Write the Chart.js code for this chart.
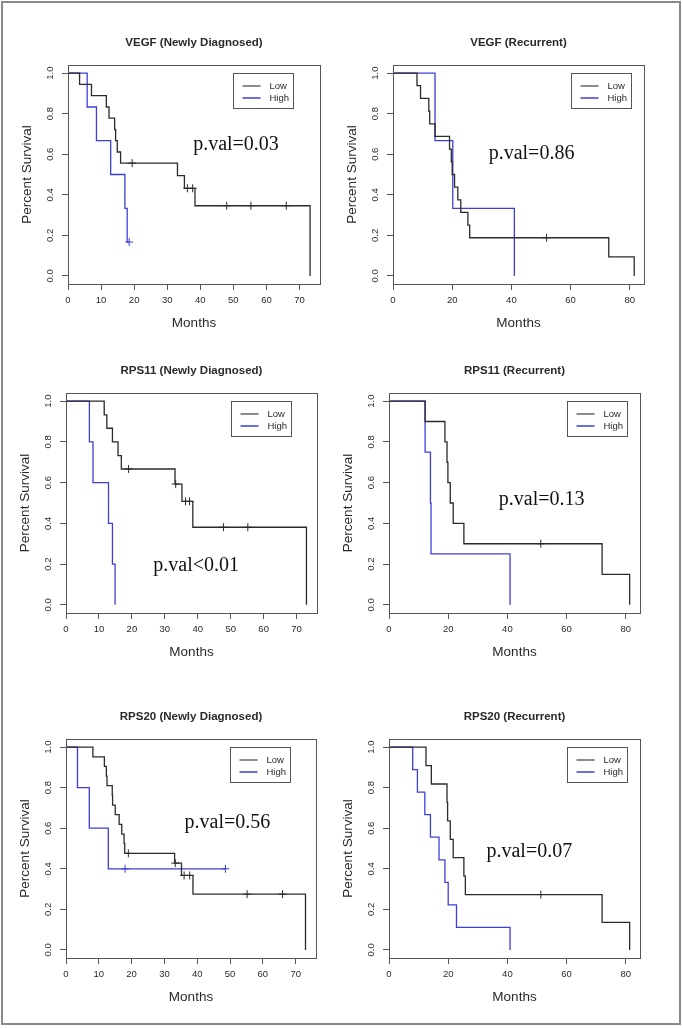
<!DOCTYPE html>
<html>
<head>
<meta charset="utf-8">
<script src="https://cdn.jsdelivr.net/npm/chart.js@4.4.0/dist/chart.umd.min.js"></script>
<style>
  html, body { margin: 0; padding: 0; background: #fff; }
  #frame { position: absolute; left: 1px; top: 1px; width: 680px; height: 1024px; box-sizing: border-box; border: 2px solid #8a8a8a; }
  canvas { position: absolute; }
</style>
</head>
<body>
<div id="frame"></div>
<script>
// Panel text
const titles = ['VEGF (Newly Diagnosed)', 'VEGF (Recurrent)', 'RPS11 (Newly Diagnosed)', 'RPS11 (Recurrent)', 'RPS20 (Newly Diagnosed)', 'RPS20 (Recurrent)'];
const pLabels = ['p.val=0.03', 'p.val=0.86', 'p.val<0.01', 'p.val=0.13', 'p.val=0.56', 'p.val=0.07'];
const groups = ['Low', 'High'];
const yTicks = [0, 0.2, 0.4, 0.6, 0.8, 1.0];
const newTicks = [0, 10, 20, 30, 40, 50, 60, 70];
const recTicks = [0, 20, 40, 60, 80];

// VEGF newly diagnosed
const vegfNewLowTime = [0, 3.5, 7.1, 11.6, 12.4, 14.1, 14.4, 14.9, 15.9, 33.1, 35.2, 38.4, 73.2];
const vegfNewLowSurv = [1, 0.944, 0.889, 0.833, 0.778, 0.722, 0.667, 0.611, 0.556, 0.494, 0.432, 0.346, 0];
const vegfNewLowCens = [19.4, 36.1, 37.7, 48.0, 55.3, 66.0];
const vegfNewHighTime = [0, 5.8, 8.6, 12.9, 17.2, 17.9, 18.5];
const vegfNewHighSurv = [1, 0.833, 0.667, 0.5, 0.333, 0.167, 0.167];
const vegfNewHighCens = [18.5];

// VEGF recurrent
const vegfRecLowTime = [0, 8.1, 9.3, 12.1, 12.4, 14.2, 19.1, 19.7, 20.0, 20.8, 21.9, 22.9, 25.3, 25.9, 72.9, 81.5];
const vegfRecLowSurv = [1, 0.938, 0.875, 0.813, 0.75, 0.688, 0.625, 0.563, 0.5, 0.438, 0.375, 0.313, 0.25, 0.188, 0.094, 0];
const vegfRecLowCens = [51.9];
const vegfRecHighTime = [0, 14.2, 20.2, 41.0];
const vegfRecHighSurv = [1, 0.667, 0.333, 0];
const vegfRecHighCens = [];

// RPS11 newly diagnosed
const rps11NewLowTime = [0, 11.6, 12.4, 14.1, 15.8, 16.8, 33.1, 35.2, 38.5, 73.0];
const rps11NewLowSurv = [1, 0.933, 0.867, 0.8, 0.733, 0.667, 0.593, 0.508, 0.381, 0];
const rps11NewLowCens = [19.0, 33.3, 36.3, 37.5, 47.8, 55.2];
const rps11NewHighTime = [0, 7.1, 8.2, 12.9, 14.1, 14.9];
const rps11NewHighSurv = [1, 0.8, 0.6, 0.4, 0.2, 0];
const rps11NewHighCens = [];

// RPS11 recurrent
const rps11RecLowTime = [0, 12.2, 18.9, 19.6, 19.9, 20.7, 21.7, 25.3, 72.0, 81.3];
const rps11RecLowSurv = [1, 0.9, 0.8, 0.7, 0.6, 0.5, 0.4, 0.3, 0.15, 0];
const rps11RecLowCens = [51.3];
const rps11RecHighTime = [0, 12.2, 14.0, 14.2, 40.9];
const rps11RecHighSurv = [1, 0.75, 0.5, 0.25, 0];
const rps11RecHighCens = [];

// RPS20 newly diagnosed
const rps20NewLowTime = [0, 8.2, 11.7, 12.3, 12.5, 14.1, 14.2, 15.0, 16.2, 17.0, 17.7, 17.9, 33.1, 35.2, 38.7, 73.0];
const rps20NewLowSurv = [1, 0.952, 0.905, 0.857, 0.810, 0.762, 0.714, 0.667, 0.619, 0.571, 0.524, 0.476, 0.428, 0.367, 0.275, 0];
const rps20NewLowCens = [19.0, 33.3, 36.0, 37.7, 55.2, 66.0];
const rps20NewHighTime = [0, 3.5, 7.1, 12.9, 48.6];
const rps20NewHighSurv = [1, 0.8, 0.6, 0.4, 0.4];
const rps20NewHighCens = [18.0, 48.6];

// RPS20 recurrent
const rps20RecLowTime = [0, 12.5, 14.3, 19.6, 19.8, 20.7, 21.7, 25.3, 25.8, 72.0, 81.3];
const rps20RecLowSurv = [1, 0.909, 0.818, 0.727, 0.636, 0.545, 0.455, 0.364, 0.273, 0.136, 0];
const rps20RecLowCens = [51.3];
const rps20RecHighTime = [0, 8.0, 9.6, 12.1, 14.0, 16.9, 18.9, 20.0, 22.8, 40.9];
const rps20RecHighSurv = [1, 0.889, 0.778, 0.667, 0.556, 0.444, 0.333, 0.222, 0.111, 0];
const rps20RecHighCens = [];

const panels = [
  { low: [vegfNewLowTime, vegfNewLowSurv, vegfNewLowCens], high: [vegfNewHighTime, vegfNewHighSurv, vegfNewHighCens], ticks: newTicks },
  { low: [vegfRecLowTime, vegfRecLowSurv, vegfRecLowCens], high: [vegfRecHighTime, vegfRecHighSurv, vegfRecHighCens], ticks: recTicks },
  { low: [rps11NewLowTime, rps11NewLowSurv, rps11NewLowCens], high: [rps11NewHighTime, rps11NewHighSurv, rps11NewHighCens], ticks: newTicks },
  { low: [rps11RecLowTime, rps11RecLowSurv, rps11RecLowCens], high: [rps11RecHighTime, rps11RecHighSurv, rps11RecHighCens], ticks: recTicks },
  { low: [rps20NewLowTime, rps20NewLowSurv, rps20NewLowCens], high: [rps20NewHighTime, rps20NewHighSurv, rps20NewHighCens], ticks: newTicks },
  { low: [rps20RecLowTime, rps20RecLowSurv, rps20RecLowCens], high: [rps20RecHighTime, rps20RecHighSurv, rps20RecHighCens], ticks: recTicks }
];

// layout (pixels) and annotation anchors (data coords)
const boxes = [
  { left: 68, top: 65, width: 252, height: 219 },
  { left: 393, top: 65, width: 251, height: 219 },
  { left: 66, top: 393, width: 251, height: 220 },
  { left: 389, top: 393, width: 251, height: 220 },
  { left: 66, top: 739, width: 250, height: 219 },
  { left: 389, top: 739, width: 251, height: 219 }
];
const xMaxNew = 76.2, xMaxRec = 84.8;
const pAt = [[50.8, 0.645], [46.8, 0.603], [39.5, 0.194], [51.6, 0.515], [49.2, 0.625], [47.4, 0.485]];
const legendAtNew = 50, legendAtRec = 60;

const lowColor = '#2b2b2b';
const highColor = '#3f3fd6';
const legendLow = '#666';
const axisColor = '#555';
const textColor = '#2a2a2a';
const sans = '"Liberation Sans", Arial, sans-serif';
const serif = '"Liberation Serif", "Times New Roman", serif';
const padL = 66, padT = 65, padR = 20, padB = 55;

function survAt(times, surv, t) {
  let s = surv[0];
  for (let i = 0; i < times.length; i++) if (times[i] <= t) s = surv[i];
  return s;
}

function drawPanel(i) {
  const p = panels[i], box = boxes[i];
  const isNew = p.ticks === newTicks;
  const cv = document.createElement('canvas');
  cv.width = padL + box.width + padR;
  cv.height = padT + box.height + padB;
  cv.style.left = (box.left - padL) + 'px';
  cv.style.top = (box.top - padT) + 'px';
  document.body.appendChild(cv);

  const datasets = [];
  [p.low, p.high].forEach((g, k) => {
    datasets.push({
      type: 'line', label: groups[k],
      data: g[0].map((t, j) => ({ x: t, y: g[1][j] })),
      stepped: 'before', borderColor: k === 0 ? lowColor : highColor, borderWidth: 1.3,
      pointRadius: 0, fill: false, tension: 0
    });
  });
  [p.low, p.high].forEach((g, k) => {
    datasets.push({
      type: 'scatter', label: groups[k] + ' censored',
      data: g[2].map(t => ({ x: t, y: survAt(g[0], g[1], t) })),
      pointStyle: 'cross', pointRadius: 4, borderColor: k === 0 ? lowColor : highColor, borderWidth: 1,
      showLine: false
    });
  });

  const decor = {
    id: 'decor',
    afterDraw(chart) {
      const ctx = chart.ctx, a = chart.chartArea;
      const xs = chart.scales.x, ys = chart.scales.y;
      const cx = (a.left + a.right) / 2, cy = (a.top + a.bottom) / 2;
      ctx.save();
      ctx.strokeStyle = axisColor;
      ctx.lineWidth = 1;
      ctx.strokeRect(Math.round(a.left) + 0.5, Math.round(a.top) + 0.5, Math.round(a.right - a.left), Math.round(a.bottom - a.top));

      ctx.fillStyle = textColor;
      ctx.textAlign = 'center';
      ctx.textBaseline = 'middle';
      ctx.font = 'bold 11.5px ' + sans;
      ctx.fillText(titles[i], cx, a.top - 22);

      ctx.font = '13.5px ' + sans;
      ctx.fillText('Months', cx, a.bottom + 39);
      ctx.save();
      ctx.translate(a.left - 41, cy);
      ctx.rotate(-Math.PI / 2);
      ctx.fillText('Percent Survival', 0, 0);
      ctx.restore();

      // y tick labels, rotated like R
      ctx.font = '9.5px ' + sans;
      ys.ticks.forEach(t => {
        ctx.save();
        ctx.translate(a.left - 18, ys.getPixelForValue(t.value));
        ctx.rotate(-Math.PI / 2);
        ctx.fillText(t.value.toFixed(1), 0, 0);
        ctx.restore();
      });

      // p value
      ctx.font = '20px ' + serif;
      ctx.fillStyle = '#111';
      ctx.fillText(pLabels[i], xs.getPixelForValue(pAt[i][0]), ys.getPixelForValue(pAt[i][1]));

      // legend box
      const lx = Math.round(xs.getPixelForValue(isNew ? legendAtNew : legendAtRec)) + 0.5;
      const ly = Math.round(ys.getPixelForValue(1.0)) + 0.5;
      ctx.strokeStyle = axisColor;
      ctx.strokeRect(lx, ly, 60, 35);
      ctx.font = '9.5px ' + sans;
      ctx.textAlign = 'left';
      ctx.fillStyle = textColor;
      [legendLow, highColor].forEach((col, k) => {
        const yy = Math.round(ly + 12 + k * 12);
        ctx.strokeStyle = col;
        ctx.lineWidth = 1.5;
        ctx.beginPath();
        ctx.moveTo(lx + 9, yy);
        ctx.lineTo(lx + 27, yy);
        ctx.stroke();
        ctx.fillText(groups[k], lx + 36, yy);
      });
      ctx.restore();
    }
  };

  new Chart(cv, {
    data: { datasets },
    options: {
      responsive: false,
      animation: false,
      devicePixelRatio: 1,
      layout: { padding: { top: padT, right: padR, left: 0, bottom: 0 } },
      plugins: { legend: { display: false }, title: { display: false }, tooltip: { enabled: false } },
      scales: {
        x: {
          type: 'linear', position: 'bottom', min: 0, max: isNew ? xMaxNew : xMaxRec,
          afterBuildTicks: s => { s.ticks = p.ticks.map(v => ({ value: v })); },
          afterFit: s => { s.height = padB; },
          ticks: { autoSkip: false, maxRotation: 0, padding: 5, color: textColor, font: { size: 9.5, family: sans }, callback: v => String(v) },
          grid: { drawOnChartArea: false, drawTicks: true, tickLength: 6, color: axisColor },
          border: { display: true, color: axisColor, width: 1 }
        },
        y: {
          type: 'linear', position: 'left', min: -0.04, max: 1.04,
          afterBuildTicks: s => { s.ticks = yTicks.map(v => ({ value: v })); },
          afterFit: s => { s.width = padL; },
          ticks: { display: false },
          grid: { drawOnChartArea: false, drawTicks: true, tickLength: 6, color: axisColor },
          border: { display: true, color: axisColor, width: 1 }
        }
      }
    },
    plugins: [decor]
  });
}

panels.forEach((p, i) => drawPanel(i));
</script>
</body>
</html>
